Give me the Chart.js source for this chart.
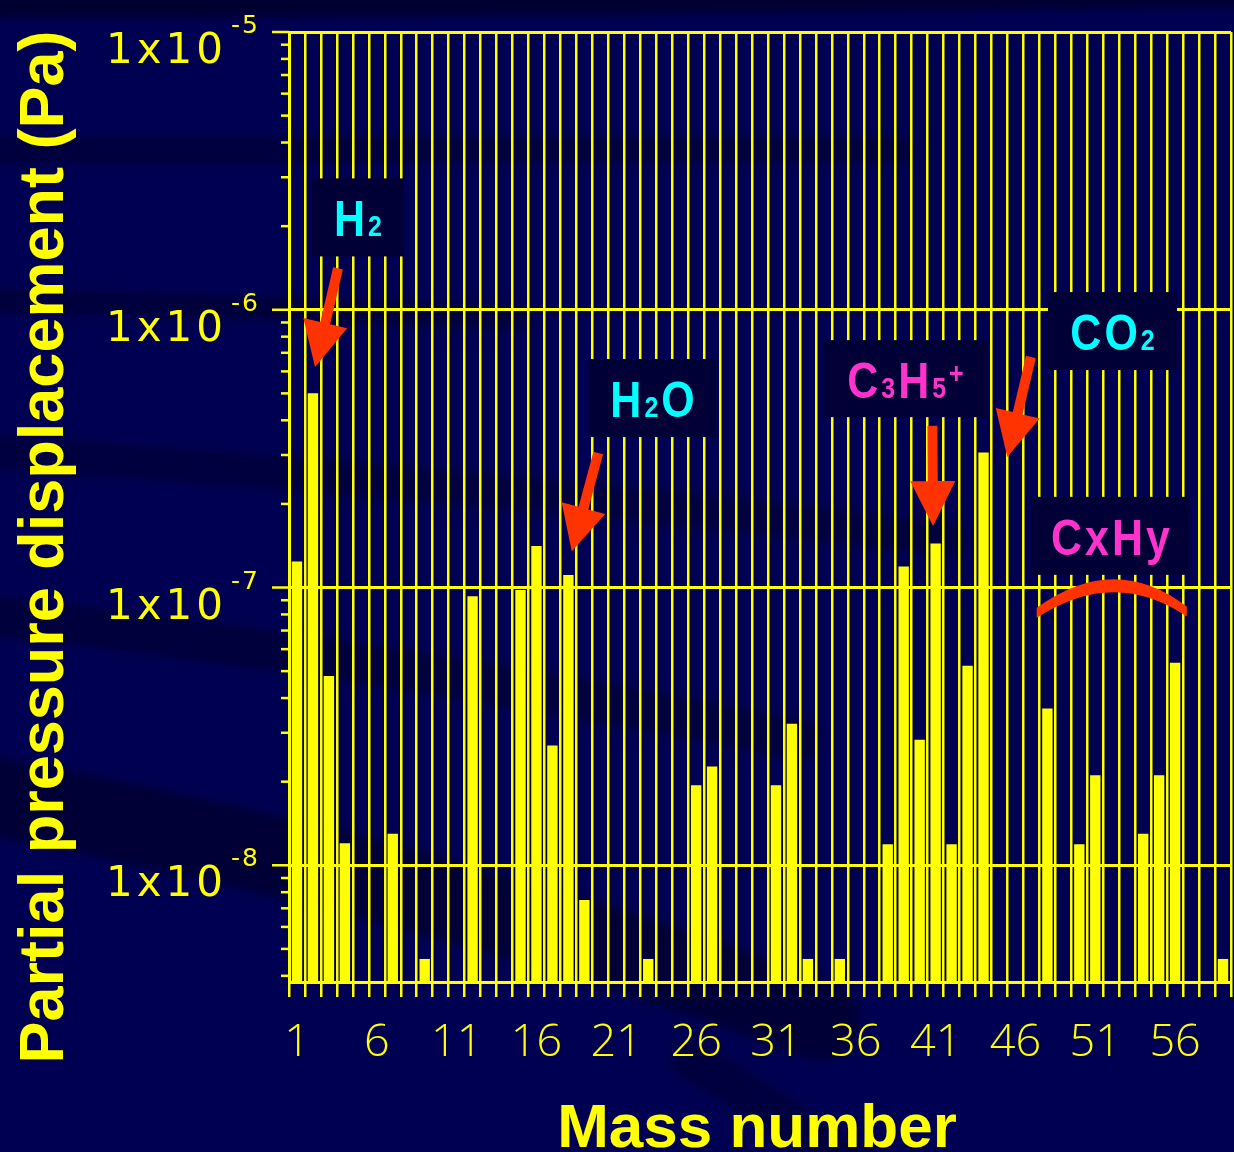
<!DOCTYPE html>
<html>
<head>
<meta charset="utf-8">
<script src="https://cdn.jsdelivr.net/npm/chart.js@4.4.1/dist/chart.umd.min.js"></script>
<style>
  html, body { margin: 0; padding: 0; background: #000052; overflow: hidden; }
  #wrap { position: relative; width: 1234px; height: 1152px; }
</style>
</head>
<body>
<div id="wrap"><canvas id="c" width="1234" height="1152"></canvas></div>
<script>
// Mass numbers on the x axis
const massNumbers = [
  1, 2, 3, 4, 5, 6, 7, 8, 9, 10,
  11, 12, 13, 14, 15, 16, 17, 18, 19, 20,
  21, 22, 23, 24, 25, 26, 27, 28, 29, 30,
  31, 32, 33, 34, 35, 36, 37, 38, 39, 40,
  41, 42, 43, 44, 45, 46, 47, 48, 49, 50,
  51, 52, 53, 54, 55, 56, 57, 58, 59
];

// Partial pressure displacement (Pa) per mass number; null = no peak
const partialPressure = [
  1.24e-7, 5.0e-7, 4.8e-8, 1.2e-8, null, null, 1.3e-8, null, 4.6e-9, null,
  null, 9.3e-8, null, null, 9.8e-8, 1.41e-7, 2.7e-8, 1.11e-7, 7.5e-9, null,
  null, null, 4.6e-9, null, null, 1.94e-8, 2.27e-8, null, null, null,
  1.94e-8, 3.23e-8, 4.6e-9, null, 4.6e-9, null, null, 1.19e-8, 1.19e-7, 2.83e-8,
  1.44e-7, 1.19e-8, 5.23e-8, 3.06e-7, null, null, null, 3.67e-8, null, 1.19e-8,
  2.11e-8, null, null, 1.3e-8, 2.11e-8, 5.36e-8, null, null, 4.6e-9
];

// Labelled mass numbers (every fifth)
const labelledMasses = [1, 6, 11, 16, 21, 26, 31, 36, 41, 46, 51, 56];

// Decade exponents labelled on the y axis
const decadeExponents = [-8, -7, -6, -5];

// Axis range
const yMin = 3.8e-9;
const yMax = 1e-5;

// Species labels: text segments ("_" = subscript, "^" = superscript),
// anchored at [mass number, pressure]
const speciesLabels = [
  { parts: ['H', '_2'],                 at: [4.82, 2.15e-6], color: '#00ffff', w: 92,  h: 78 },
  { parts: ['H', '_2', 'O'],            at: [23.27, 4.81e-7], color: '#00ffff', w: 128, h: 78 },
  { parts: ['C', '_3', 'H', '_5', '^+'], at: [39.11, 5.65e-7], color: '#ff33cc', w: 163, h: 77 },
  { parts: ['CO', '_2'],                at: [52.08, 8.38e-7], color: '#00ffff', w: 129, h: 78 },
  { parts: ['CxHy'],                    at: [51.95, 1.535e-7], color: '#ff33cc', w: 159, h: 78 }
];

// Arrows from label to peak: [mass, pressure] tail and tip
const peakArrows = [
  { from: [3.57, 1.41e-6],  to: [2.13, 6.22e-7] },
  { from: [19.87, 3.05e-7], to: [18.21, 1.347e-7] },
  { from: [40.8, 3.82e-7],  to: [40.84, 1.664e-7] },
  { from: [46.97, 6.76e-7], to: [45.49, 2.95e-7] }
];

// Bracket spanning the hydrocarbon peaks: left end, apex, right end
const hydrocarbonArc = { left: [47.33, 8.11e-8], apex: [52.11, 1.05e-7], right: [56.73, 8.2e-8] };

const YELLOW = '#ffff00';
const RED = '#ff3300';
const BOX = '#000036';

function isDecade(v) {
  const l = Math.log10(v);
  return Math.abs(l - Math.round(l)) < 1e-6;
}

// Helper: pixel position of a [mass, pressure] pair
function px(chart, p) {
  const xs = chart.scales.x, ys = chart.scales.y;
  const xPix = xs.getPixelForValue(0) + (p[0] - 1) * (xs.getPixelForValue(1) - xs.getPixelForValue(0));
  return [xPix, ys.getPixelForValue(p[1])];
}

// Dark streaks of the slide background
const backdrop = {
  id: 'backdrop',
  beforeDraw(chart) {
    const ctx = chart.ctx;
    ctx.save();
    ctx.fillStyle = '#000052';
    ctx.fillRect(0, 0, chart.width, chart.height);
    ctx.filter = 'blur(4px)';
    ctx.lineCap = 'round';
    const bands = [
      { pts: [[-40, 6], [600, 4], [1300, -6]], w: 24, a: 0.55 },
      { pts: [[-40, 150], [500, 152], [900, 150]], w: 26, a: 0.35 },
      { pts: [[-40, 300], [300, 308], [520, 318]], w: 24, a: 0.35 },
      { pts: [[-40, 450], [500, 485], [950, 540]], w: 34, a: 0.3 },
      { pts: [[-40, 612], [400, 660], [800, 740]], w: 40, a: 0.35 },
      { pts: [[-40, 790], [450, 880], [820, 1020]], w: 80, a: 0.42 },
      { pts: [[690, 1060], [770, 1105], [860, 1170]], w: 40, a: 0.3 }
    ];
    for (const b of bands) {
      ctx.strokeStyle = 'rgba(0,0,20,' + b.a + ')';
      ctx.lineWidth = b.w;
      ctx.beginPath();
      ctx.moveTo(b.pts[0][0], b.pts[0][1]);
      ctx.quadraticCurveTo(b.pts[1][0], b.pts[1][1], b.pts[2][0], b.pts[2][1]);
      ctx.stroke();
    }
    ctx.restore();
  }
};

function drawArrow(ctx, x0, y0, x1, y1) {
  const dx = x1 - x0, dy = y1 - y0;
  const len = Math.hypot(dx, dy);
  const ux = dx / len, uy = dy / len;
  const nx = -uy, ny = ux;
  const headLen = 45, headHalf = 22.5, shaftHalf = 5;
  const bx = x1 - ux * headLen, by = y1 - uy * headLen;
  ctx.beginPath();
  ctx.moveTo(x0 + nx * shaftHalf, y0 + ny * shaftHalf);
  ctx.lineTo(bx + nx * shaftHalf, by + ny * shaftHalf);
  ctx.lineTo(bx + nx * headHalf, by + ny * headHalf);
  ctx.lineTo(x1, y1);
  ctx.lineTo(bx - nx * headHalf, by - ny * headHalf);
  ctx.lineTo(bx - nx * shaftHalf, by - ny * shaftHalf);
  ctx.lineTo(x0 - nx * shaftHalf, y0 - ny * shaftHalf);
  ctx.closePath();
  ctx.fill();
}

function drawRich(ctx, parts, cx, baseline, color) {
  const MAIN = 'bold 43px "Liberation Sans", Arial, sans-serif';
  const SMALL = 'bold 25px "Liberation Sans", Arial, sans-serif';
  const sy = 1.18;
  ctx.letterSpacing = '3px';
  const segs = parts.map(p => {
    let kind = 'n', t = p;
    if (p[0] === '_') { kind = 'sub'; t = p.slice(1); }
    else if (p[0] === '^') { kind = 'sup'; t = p.slice(1); }
    ctx.font = kind === 'n' ? MAIN : SMALL;
    return { kind, t, w: ctx.measureText(t).width };
  });
  const total = segs.reduce((s, g) => s + g.w, 0) - 3;
  let x = cx - total / 2;
  ctx.fillStyle = color;
  ctx.textAlign = 'left';
  ctx.textBaseline = 'alphabetic';
  for (const g of segs) {
    ctx.font = g.kind === 'n' ? MAIN : SMALL;
    const yb = g.kind === 'sup' ? baseline - 15 : baseline;
    ctx.save();
    ctx.translate(x, yb);
    ctx.scale(1, sy);
    ctx.fillText(g.t, 0, 0);
    ctx.restore();
    x += g.w;
  }
  ctx.letterSpacing = '0px';
}

// Axis decorations, titles and annotations
const overlay = {
  id: 'overlay',
  afterDatasetsDraw(chart) {
    const ctx = chart.ctx;
    const ys = chart.scales.y;
    const left = chart.chartArea.left;
    ctx.save();

    // y tick marks: long at decades, short in between
    ctx.strokeStyle = YELLOW;
    ctx.lineWidth = 2.5;
    for (let e = -9; e <= -5; e++) {
      for (let m = 1; m <= 9; m++) {
        const v = m * Math.pow(10, e);
        if (v < yMin * 0.999 || v > yMax * 1.001) continue;
        const y = ys.getPixelForValue(v);
        const len = m === 1 ? 17 : 8;
        ctx.beginPath();
        ctx.moveTo(left - len, y);
        ctx.lineTo(left, y);
        ctx.stroke();
      }
    }

    // y tick labels "1x10" with superscript exponent
    ctx.fillStyle = YELLOW;
    ctx.textAlign = 'left';
    ctx.textBaseline = 'alphabetic';
    for (const e of decadeExponents) {
      const y = ys.getPixelForValue(Math.pow(10, e));
      ctx.font = '42px "DejaVu Sans", sans-serif';
      ctx.letterSpacing = '4px';
      ctx.fillText('1x10', 106, y + 31);
      ctx.font = '25px "DejaVu Sans", sans-serif';
      ctx.letterSpacing = '2px';
      ctx.fillText(String(e), 231, y + 1);
    }
    ctx.letterSpacing = '0px';

    // Axis titles
    ctx.font = 'bold 63px "Liberation Sans", Arial, sans-serif';
    ctx.textAlign = 'center';
    ctx.save();
    ctx.translate(63, 547);
    ctx.rotate(-Math.PI / 2);
    ctx.fillText('Partial pressure displacement (Pa)', 0, 0);
    ctx.restore();
    ctx.font = 'bold 62px "Liberation Sans", Arial, sans-serif';
    ctx.fillText('Mass number', 757, 1147);

    // Species label boxes
    for (const s of speciesLabels) {
      const [cx, cy] = px(chart, s.at);
      ctx.fillStyle = BOX;
      ctx.fillRect(cx - s.w / 2, cy - s.h / 2, s.w, s.h);
      drawRich(ctx, s.parts, cx, cy + 19, s.color);
    }

    // Arrows
    ctx.fillStyle = RED;
    for (const a of peakArrows) {
      const [x0, y0] = px(chart, a.from);
      const [x1, y1] = px(chart, a.to);
      drawArrow(ctx, x0, y0, x1, y1);
    }

    // Hydrocarbon bracket (crescent)
    const [lx, ly] = px(chart, hydrocarbonArc.left);
    const [ax, ay] = px(chart, hydrocarbonArc.apex);
    const [rx, ry] = px(chart, hydrocarbonArc.right);
    const cxo = 2 * ax - (lx + rx) / 2, cyo = 2 * ay - (ly + ry) / 2;
    const t = 13, te = 10;
    ctx.beginPath();
    ctx.moveTo(lx, ly - te / 2);
    ctx.quadraticCurveTo(cxo, cyo, rx, ry - te / 2);
    ctx.lineTo(rx, ry + te / 2);
    ctx.quadraticCurveTo(cxo, cyo + 2 * t - te, lx, ly + te / 2);
    ctx.closePath();
    ctx.fill();

    ctx.restore();
  }
};

new Chart(document.getElementById('c'), {
  type: 'bar',
  data: {
    labels: massNumbers,
    datasets: [{
      data: partialPressure,
      backgroundColor: YELLOW,
      borderWidth: 0,
      barPercentage: 0.65,
      categoryPercentage: 1.0
    }]
  },
  options: {
    responsive: false,
    animation: false,
    events: [],
    layout: { padding: { top: 32, right: 3, left: 0, bottom: 0 } },
    plugins: { legend: { display: false }, tooltip: { enabled: false } },
    scales: {
      x: {
        type: 'category',
        offset: true,
        afterFit(s) { s.height = 170; s.paddingLeft = 0; s.paddingRight = 0; },
        grid: {
          offset: true,
          color: YELLOW,
          lineWidth: 2.5,
          tickLength: 15,
          tickColor: YELLOW,
          tickWidth: 2.5
        },
        border: { color: YELLOW, width: 3 },
        ticks: {
          autoSkip: false,
          maxRotation: 0,
          minRotation: 0,
          color: YELLOW,
          padding: 19,
          font: { family: '"Open Sans", sans-serif', size: 45, weight: 300 },
          callback(value) {
            const m = massNumbers[value];
            return labelledMasses.includes(m) ? String(m) : '';
          }
        }
      },
      y: {
        type: 'logarithmic',
        min: yMin,
        max: yMax,
        afterFit(s) { s.width = 289; },
        ticks: { display: false },
        grid: {
          color: ctx => (ctx.tick && isDecade(ctx.tick.value)) ? YELLOW : 'rgba(0,0,0,0)',
          lineWidth: 3,
          drawTicks: false
        },
        border: { color: YELLOW, width: 3 }
      }
    }
  },
  plugins: [backdrop, overlay]
});
</script>
</body>
</html>
